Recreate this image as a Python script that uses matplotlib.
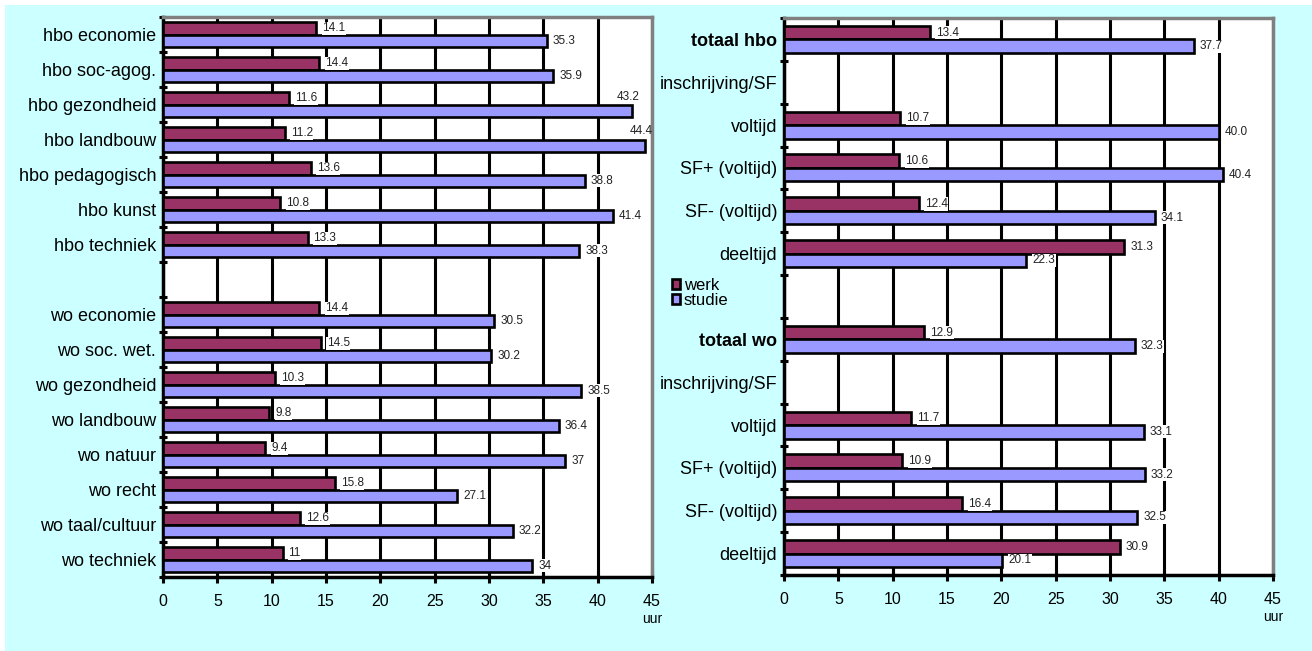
import matplotlib

matplotlib.use("Agg")
import matplotlib.pyplot as plt
import numpy as np
from matplotlib.patches import Patch, Rectangle

plt.rcParams["font.family"] = ["Liberation Sans", "DejaVu Sans"]

# left panel: hours per week by study field
left_labels = [
    "hbo economie", "hbo soc-agog.", "hbo gezondheid", "hbo landbouw",
    "hbo pedagogisch", "hbo kunst", "hbo techniek", "",
    "wo economie", "wo soc. wet.", "wo gezondheid", "wo landbouw",
    "wo natuur", "wo recht", "wo taal/cultuur", "wo techniek",
]
left_werk = [14.1, 14.4, 11.6, 11.2, 13.6, 10.8, 13.3, np.nan,
             14.4, 14.5, 10.3, 9.8, 9.4, 15.8, 12.6, 11]
left_studie = [35.3, 35.9, 43.2, 44.4, 38.8, 41.4, 38.3, np.nan,
               30.5, 30.2, 38.5, 36.4, 37, 27.1, 32.2, 34]

# right panel: hours per week by enrolment type
right_labels = [
    "totaal hbo", "inschrijving/SF", "voltijd", "SF+ (voltijd)",
    "SF- (voltijd)", "deeltijd", "",
    "totaal wo", "inschrijving/SF", "voltijd", "SF+ (voltijd)",
    "SF- (voltijd)", "deeltijd",
]
right_werk = [13.4, np.nan, 10.7, 10.6, 12.4, 31.3, np.nan,
              12.9, np.nan, 11.7, 10.9, 16.4, 30.9]
right_studie = [37.7, np.nan, 40.0, 40.4, 34.1, 22.3, np.nan,
                32.3, np.nan, 33.1, 33.2, 32.5, 20.1]
bold_labels = {"totaal hbo", "totaal wo"}

x_ticks = [0, 5, 10, 15, 20, 25, 30, 35, 40, 45]

WERK = "#993366"
STUDIE = "#9999FF"
BG = "#CCFFFF"


def draw_panel(ax, labels, werk, studie, fmt, bar_h):
    n = len(labels)
    y = np.arange(n)
    ax.set_facecolor("white")
    ax.barh(y - bar_h / 2, werk, height=bar_h, color=WERK,
            edgecolor="black", linewidth=1.9, zorder=3)
    ax.barh(y + bar_h / 2, studie, height=bar_h, color=STUDIE,
            edgecolor="black", linewidth=1.9, zorder=3)

    for yi, w, s in zip(y, werk, studie):
        for val, yy in ((w, yi - bar_h / 2), (s, yi + bar_h / 2)):
            if np.isnan(val):
                continue
            if val > 42:
                ax.annotate(fmt(val), (val, yy - bar_h / 2), xytext=(-4, 2),
                            textcoords="offset pixels", ha="center", va="bottom",
                            fontsize=8.5, color="#222222", zorder=4)
            else:
                ax.annotate(fmt(val), (val, yy), xytext=(6, 0),
                            textcoords="offset pixels", ha="left", va="center",
                            fontsize=8.5, color="#222222", zorder=4,
                            bbox=dict(boxstyle="square,pad=0.05", fc="white", ec="none"))

    ax.set_xlim(0, 45)
    ax.set_ylim(n - 0.5, -0.5)
    ax.set_xticks(x_ticks)
    ax.set_xticklabels([str(t) for t in x_ticks], fontsize=11.5)
    ax.set_yticks(y)
    ax.set_yticklabels(labels, fontsize=13)
    for tl in ax.get_yticklabels():
        if tl.get_text() in bold_labels:
            tl.set_fontweight("bold")
    ax.set_yticks(np.arange(n + 1) - 0.5, minor=True)
    ax.tick_params(axis="y", which="major", length=0, pad=5)
    ax.tick_params(axis="y", which="minor", length=6, width=2.2, direction="inout")
    ax.tick_params(axis="x", length=9, width=2.2, direction="inout", pad=8)

    ax.grid(axis="x", color="black", linewidth=2.2, zorder=1)
    ax.set_axisbelow(True)
    for side in ("left", "bottom"):
        ax.spines[side].set_color("black")
        ax.spines[side].set_linewidth(2.5)
    for side in ("top", "right"):
        ax.spines[side].set_color("#808080")
        ax.spines[side].set_linewidth(2.5)

    ax.annotate("uur", (1.0, 0.0), xycoords="axes fraction", xytext=(0, -42),
                textcoords="offset pixels", ha="center", va="center", fontsize=10)


fig = plt.figure(figsize=(13.12, 6.51), dpi=100, facecolor="white")
fig.patches.append(Rectangle((5 / 1312, 0), 1 - 5 / 1312, 1 - 5 / 651,
                             transform=fig.transFigure, facecolor=BG,
                             edgecolor="none", zorder=-10))

ax_left = fig.add_axes([163 / 1312, 1 - 577 / 651, 489 / 1312, 560 / 651])
ax_right = fig.add_axes([784 / 1312, 1 - 575 / 651, 489 / 1312, 557 / 651])

draw_panel(ax_left, left_labels, left_werk, left_studie, lambda v: f"{v:g}", 0.355)
draw_panel(ax_right, right_labels, right_werk, right_studie, lambda v: f"{v:.1f}", 0.315)

handles = [Patch(facecolor=WERK, edgecolor="black", linewidth=1.9),
           Patch(facecolor=STUDIE, edgecolor="black", linewidth=1.9)]
fig.legend(handles, ["werk", "studie"], loc="upper left",
           bbox_to_anchor=(672 / 1312, 1 - 278 / 651), frameon=False,
           fontsize=12, handlelength=0.5, handleheight=0.5, handletextpad=0.2,
           labelspacing=0.0, borderpad=0, borderaxespad=0)

fig.savefig("out.png", dpi=100, facecolor=fig.get_facecolor())
